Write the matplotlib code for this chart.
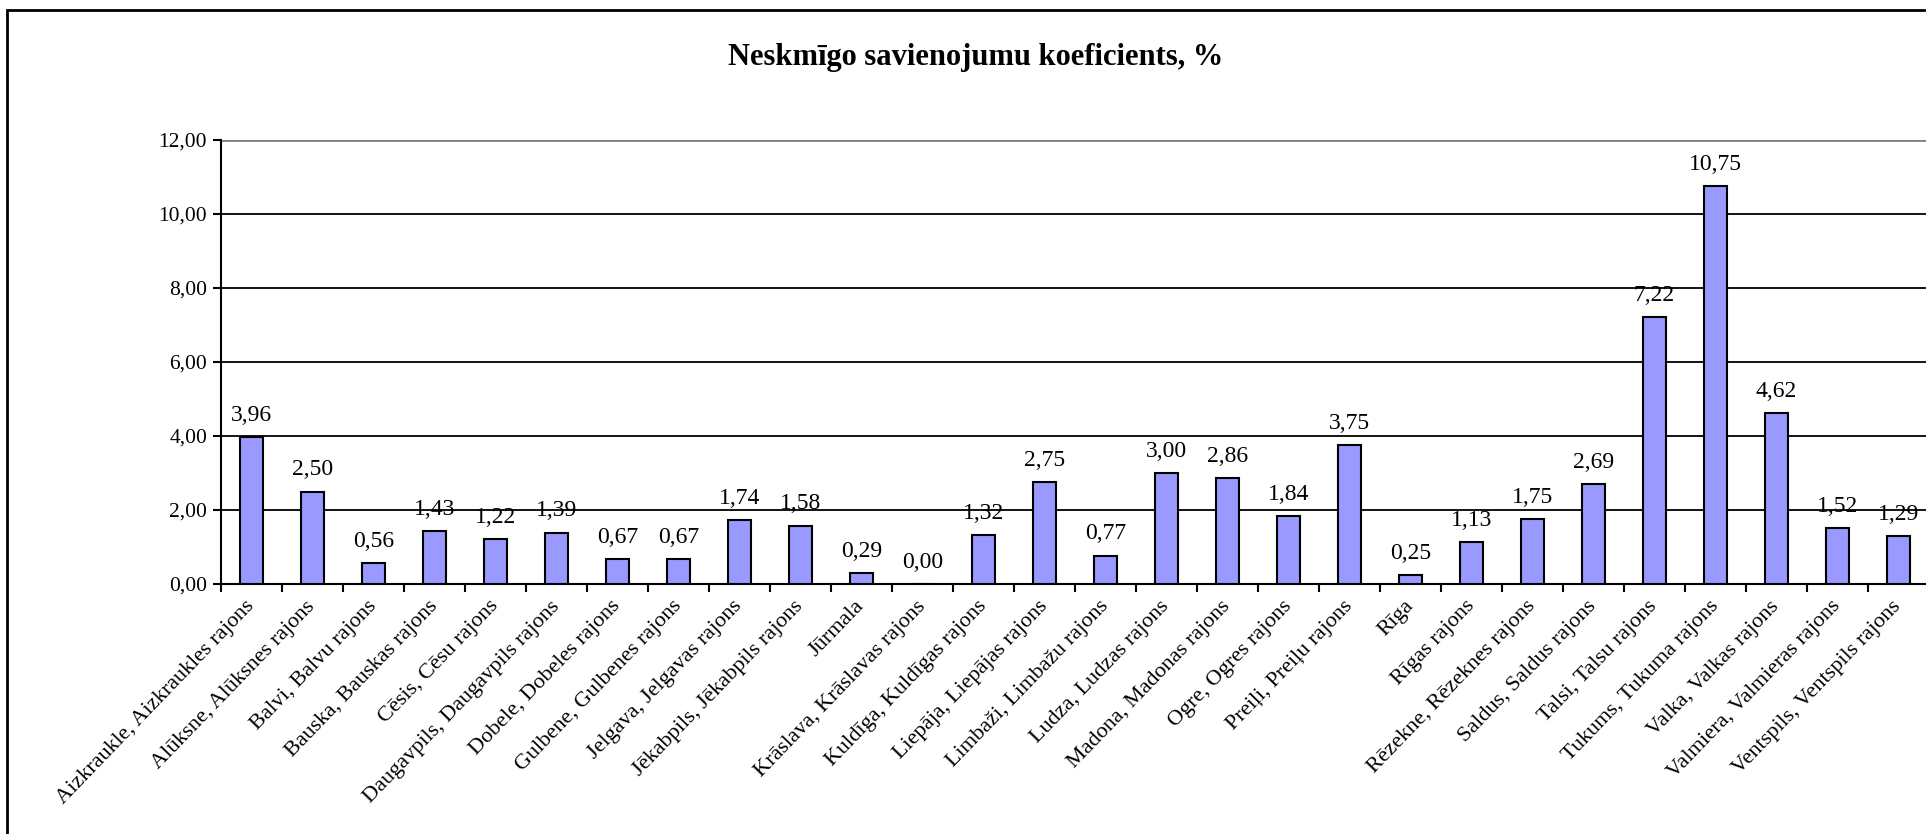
import matplotlib
matplotlib.use("Agg")
import matplotlib.pyplot as plt
from matplotlib.patches import Rectangle
import numpy as np

plt.rcParams['font.family'] = ['Liberation Serif', 'DejaVu Serif']

# data
regions = [
    "Aizkraukle, Aizkraukles rajons", "Alūksne, Alūksnes rajons", "Balvi, Balvu rajons",
    "Bauska, Bauskas rajons", "Cēsis, Cēsu rajons", "Daugavpils, Daugavpils rajons",
    "Dobele, Dobeles rajons", "Gulbene, Gulbenes rajons", "Jelgava, Jelgavas rajons",
    "Jēkabpils, Jēkabpils rajons", "Jūrmala", "Krāslava, Krāslavas rajons",
    "Kuldīga, Kuldīgas rajons", "Liepāja, Liepājas rajons", "Limbaži, Limbažu rajons",
    "Ludza, Ludzas rajons", "Madona, Madonas rajons", "Ogre, Ogres rajons",
    "Preiļi, Preiļu rajons", "Rīga", "Rīgas rajons", "Rēzekne, Rēzeknes rajons",
    "Saldus, Saldus rajons", "Talsi, Talsu rajons", "Tukums, Tukuma rajons",
    "Valka, Valkas rajons", "Valmiera, Valmieras rajons", "Ventspils, Ventspils rajons",
]
values = [3.96, 2.50, 0.56, 1.43, 1.22, 1.39, 0.67, 0.67, 1.74, 1.58, 0.29, 0.00,
          1.32, 2.75, 0.77, 3.00, 2.86, 1.84, 3.75, 0.25, 1.13, 1.75, 2.69, 7.22,
          10.75, 4.62, 1.52, 1.29]
yticks = [0, 2, 4, 6, 8, 10, 12]

W, H = 1926, 834
fig = plt.figure(figsize=(W / 100, H / 100), dpi=100)

# outer chart border (cut off on the right and bottom in the reference)
fig.patches.append(Rectangle((7 / W, -0.1), 1.2, 1.1 - 10 / H, transform=fig.transFigure,
                             fill=False, edgecolor='black', linewidth=2))

ax = fig.add_axes([221 / W, (H - 584) / H, 1708 / W, 444 / H])
x = np.arange(len(values))
ax.bar(x, values, width=0.38, color='#9999ff', edgecolor='black', linewidth=1.5, zorder=3)

for xi, v in zip(x, values):
    ax.annotate(f"{v:.2f}".replace('.', ','), (xi, v), xytext=(0, 8), textcoords='offset points',
                ha='center', va='bottom', fontsize=17)

ax.set_xlim(-0.5, len(values) - 0.5)
ax.set_ylim(0, 12)
ax.set_yticks(yticks)
ax.set_yticklabels([f"{t:.2f}".replace('.', ',') for t in yticks], fontsize=15.5)
for t in yticks[1:-1]:
    ax.axhline(t, color='black', linewidth=1.3, zorder=1)
ax.axhline(12, color='#808080', linewidth=2, zorder=1)

# category boundary ticks, labels at centres
ax.set_xticks(np.arange(len(values) + 1) - 0.5)
ax.set_xticklabels([])
ax.set_xticks(x, minor=True)
ax.set_xticklabels(regions, minor=True, rotation=46, ha='right', va='center',
                   rotation_mode='anchor', fontsize=16)
ax.tick_params(axis='x', which='minor', length=0, pad=14)
ax.tick_params(axis='x', which='major', length=6, width=1.5, direction='out')
ax.tick_params(axis='y', length=6, width=1.5, direction='out', pad=4)

for s in ['top', 'right']:
    ax.spines[s].set_visible(False)
ax.spines['left'].set_linewidth(1.5)
ax.spines['bottom'].set_linewidth(1.5)

fig.text(976 / W, 1 - 58 / H, "Neskmīgo savienojumu koeficients, %", ha='center', va='center',
         fontsize=22, fontweight='bold')

fig.savefig("out.png", dpi=100)
